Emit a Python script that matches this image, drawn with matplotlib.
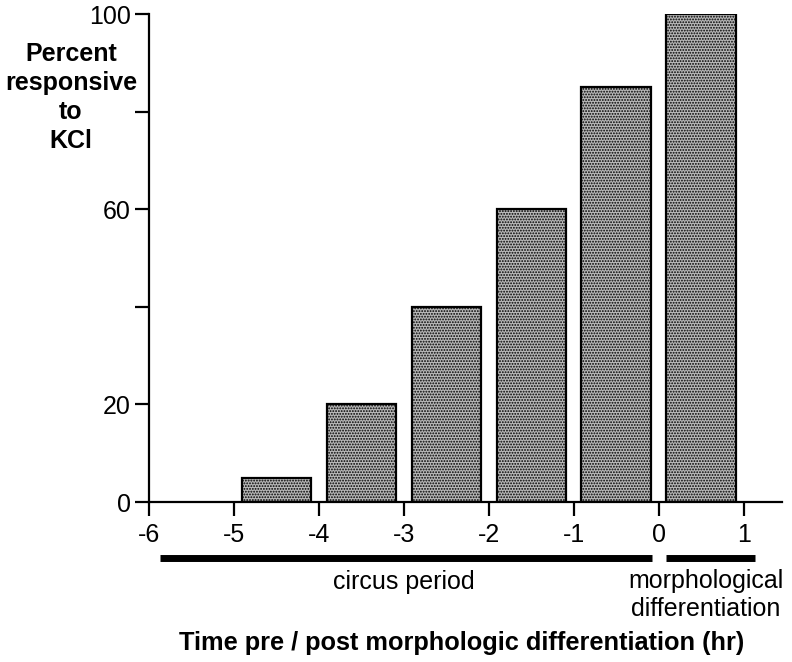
import matplotlib
matplotlib.use("Agg")
import matplotlib.pyplot as plt

plt.rcParams['font.family'] = ['Liberation Sans', 'DejaVu Sans']
plt.rcParams['hatch.color'] = '#404040'
plt.rcParams['hatch.linewidth'] = 0.9

bar_centers = [-4.5, -3.5, -2.5, -1.5, -0.5, 0.5]
percent = [5, 20, 40, 60, 85, 100]
x_ticks = [-6, -5, -4, -3, -2, -1, 0, 1]
y_ticks = [0, 20, 40, 60, 80, 100]
y_tick_labels = ['0', '20', '', '60', '', '100']
period_spans = [(-5.87, -0.08), (0.09, 1.13)]
ylabel_lines = ['Percent', 'responsive', 'to', 'KCl']
morph_lines = ['morphological', 'differentiation']

W, H = 792, 662
fig = plt.figure(figsize=(W / 100, H / 100), dpi=100)
ax = fig.add_axes([149 / W, 1 - 502 / H, (782 - 149) / W, (502 - 14) / H])

ax.bar(bar_centers, percent, width=0.82, facecolor='#b8b8b8', edgecolor='black',
       linewidth=1.6, hatch='......', zorder=2)

ax.set_xlim(-6, 1.45)
ax.set_ylim(0, 100)
ax.spines['top'].set_visible(False)
ax.spines['right'].set_visible(False)
ax.spines['left'].set_linewidth(1.6)
ax.spines['bottom'].set_linewidth(1.6)
ax.set_xticks(x_ticks)
ax.set_xticklabels([str(t) for t in x_ticks])
ax.set_yticks(y_ticks)
ax.set_yticklabels(y_tick_labels)
ax.tick_params(axis='both', length=10, width=1.6, labelsize=18)
ax.tick_params(axis='y', pad=3)
ax.tick_params(axis='x', pad=5)

for x0, x1 in period_spans:
    ax.plot([x0, x1], [-11.5, -11.5], color='black', linewidth=5, solid_capstyle='butt',
            clip_on=False)

fig.text(404 / W, 1 - 582 / H, 'circus period', ha='center', va='center', fontsize=18)
for i, line in enumerate(morph_lines):
    fig.text(706 / W, 1 - (581 + 28 * i) / H, line, ha='center', va='center', fontsize=18)

for i, line in enumerate(ylabel_lines):
    fig.text(71 / W, 1 - (54 + 29 * i) / H, line, ha='center', va='center',
             fontsize=18, fontweight='bold')

fig.text(462 / W, 1 - 643 / H, 'Time pre / post morphologic differentiation (hr)',
         ha='center', va='center', fontsize=18.3, fontweight='bold')

fig.savefig('out.png', dpi=100)
